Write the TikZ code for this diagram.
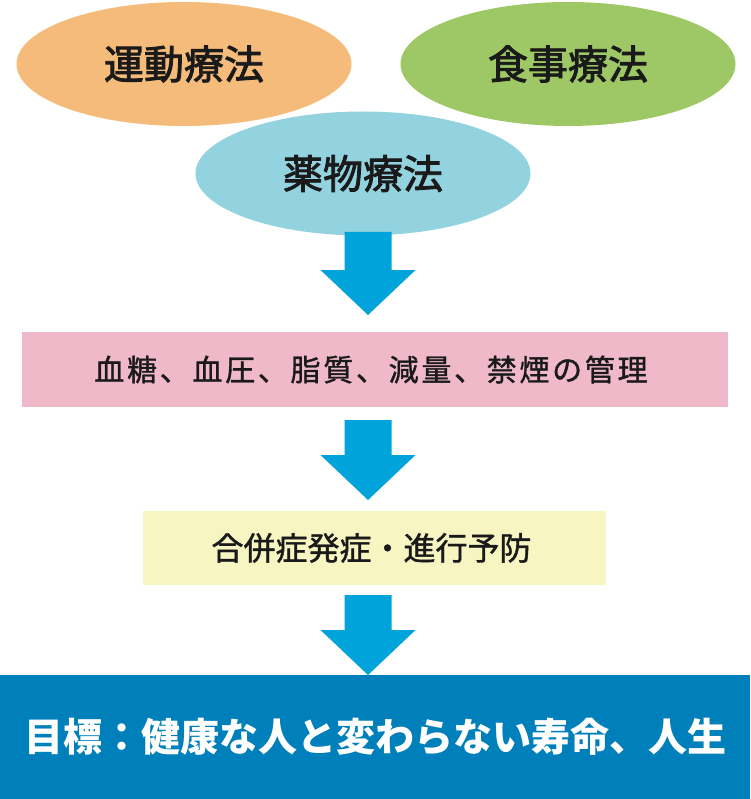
\documentclass[tikz,border=0pt]{standalone}
\usepackage{fontspec}
\newfontfamily\jp{Noto Sans CJK JP}
\newfontfamily\jpm[FakeBold=1.2]{Noto Sans CJK JP}
\newfontfamily\jpb[FakeBold=2.2]{Noto Sans CJK JP}
\usetikzlibrary{shapes.geometric,calc}
\definecolor{orangeE}{HTML}{F4BB7B}
\definecolor{greenE}{HTML}{9DC865}
\definecolor{blueE}{HTML}{93D2DF}
\definecolor{arrowC}{HTML}{00A3DA}
\definecolor{pinkB}{HTML}{F0B9CA}
\definecolor{yellowB}{HTML}{F7F5C1}
\definecolor{goalB}{HTML}{0080BB}
\definecolor{txt}{HTML}{1A1A1A}
\tikzset{
  therapy/.style={ellipse, minimum width=335pt, minimum height=124pt, inner sep=0pt, text=txt, font=\jpb\fontsize{40}{44}\selectfont},
  stagebox/.style={rectangle, inner sep=0pt, text=txt},
  fatarrow/.style={fill=arrowC, draw=none}
}
\newcommand\bigdown[2]{%
  \fill[fatarrow] ($(#1)+(-23.5,0)$) -- ($(#2)+(-23.5,-45)$) -- ($(#2)+(-47.5,-45)$) -- (#2)
    -- ($(#2)+(47.5,-45)$) -- ($(#2)+(23.5,-45)$) -- ($(#1)+(23.5,0)$) -- cycle;}
\begin{document}
\begin{tikzpicture}[x=1pt,y=-1pt]
\useasboundingbox (0,0) rectangle (750,799);
\fill[white] (0,0) rectangle (750,799);
\node[therapy, fill=orangeE] (ex) at (184,64) {\raisebox{3pt}{運動療法}};
\node[therapy, fill=greenE] (diet) at (568,64) {\raisebox{3pt}{食事療法}};
\node[therapy, fill=blueE] (drug) at (363,173.5) {\raisebox{3pt}{薬物療法}};
\node[stagebox, fill=pinkB, minimum width=706pt, minimum height=75pt,
  font=\jpm\fontsize{30}{32}\selectfont\addfontfeature{LetterSpace=9}] (mgmt) at (375,369.5) {\hspace*{-8pt}血糖、血圧、脂質、減量、禁煙の管理};
\node[stagebox, fill=yellowB, minimum width=463pt, minimum height=74pt,
  font=\jpm\fontsize{32}{36}\selectfont] (prev) at (374.5,548) {\hspace*{-6pt}合併症発症・進行予防};
\node[stagebox, fill=goalB, minimum width=750pt, minimum height=124pt, text=white,
  font=\jp\bfseries\fontsize{39}{44}\selectfont] (goal) at (375,737) {目標：健康な人と変わらない寿命、人生};
\coordinate (a1s) at (368,232);
\coordinate (a1t) at (368,315);
\coordinate (a2s) at (368,420);
\coordinate (a2t) at (368,500);
\coordinate (a3s) at (368,595);
\coordinate (a3t) at (368,675);
\bigdown{a1s}{a1t}
\bigdown{a2s}{a2t}
\bigdown{a3s}{a3t}
\end{tikzpicture}
\end{document}
